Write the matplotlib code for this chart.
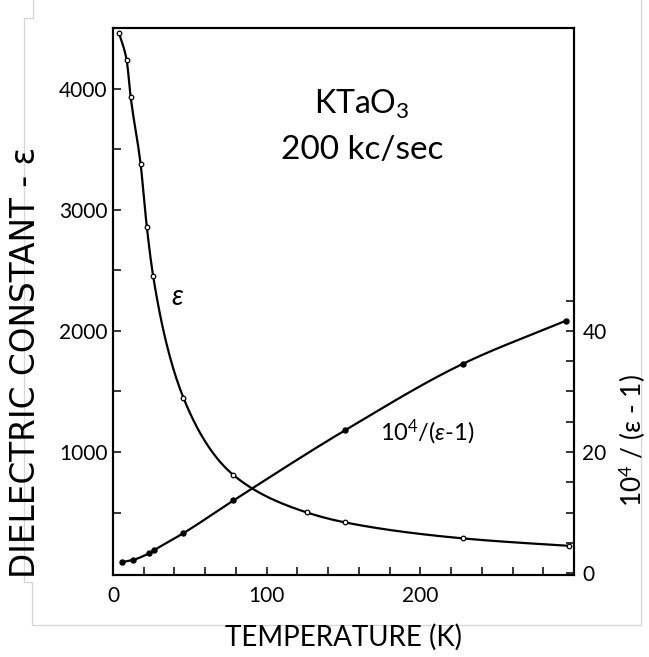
import numpy as np
import matplotlib
matplotlib.use("Agg")
import matplotlib.pyplot as plt
from matplotlib.ticker import MultipleLocator, FixedLocator
from matplotlib.lines import Line2D

plt.rcParams['font.family'] = ['Lato', 'DejaVu Sans']
plt.rcParams['mathtext.fontset'] = 'custom'
plt.rcParams['mathtext.rm'] = 'Lato'
plt.rcParams['mathtext.it'] = 'Lato:italic'

# dielectric constant of KTaO3 at 200 kc/sec (open circles)
temp_eps = [3.9, 8.9, 11.5, 18.0, 22.0, 26.1, 45.8, 78.4, 126.2, 151.1, 228.0, 296.6]
eps = [4460, 4234, 3931, 3374, 2860, 2455, 1449, 810, 501, 419, 287, 226]

# 10^4/(eps-1) (filled dots), right axis
temp_inv = [5.6, 13.2, 23.5, 26.7, 45.8, 78.4, 151.1, 228.0, 294.9]
inv_eps = [1.8, 2.2, 3.3, 3.8, 6.6, 12.0, 23.6, 34.6, 41.7]

x_ticks = [0, 100, 200]
left_ticks = [1000, 2000, 3000, 4000]
right_ticks = [0, 20, 40]


# smooth line through the measured points (monotone cubic, like a french curve)
def smooth(x, y, xs):
    x = np.asarray(x, float)
    y = np.asarray(y, float)
    h = np.diff(x)
    d = np.diff(y) / h
    m = np.zeros_like(y)
    for k in range(1, len(x) - 1):
        if d[k - 1] * d[k] > 0:
            w1 = 2 * h[k] + h[k - 1]
            w2 = h[k] + 2 * h[k - 1]
            m[k] = (w1 + w2) / (w1 / d[k - 1] + w2 / d[k])
    m[0] = d[0]
    m[-1] = d[-1]
    i = np.clip(np.searchsorted(x, xs) - 1, 0, len(h) - 1)
    t = (xs - x[i]) / h[i]
    return ((2 * t**3 - 3 * t**2 + 1) * y[i] + (t**3 - 2 * t**2 + t) * h[i] * m[i]
            + (-2 * t**3 + 3 * t**2) * y[i + 1] + (t**3 - t**2) * h[i] * m[i + 1])


fig = plt.figure(figsize=(6.49, 6.57), dpi=100)
ax = fig.add_axes([0.1741, 0.1248, 0.7103, 0.8326])
ax2 = ax.twinx()

ts = np.linspace(temp_eps[0], temp_eps[-1], 400)
ax.plot(ts, np.exp(smooth(temp_eps, np.log(eps), ts)), color='black', lw=1.6)
ax.plot(temp_eps, eps, 'o', ms=3.3, mfc='white', mec='black', mew=0.9)

ti = np.linspace(temp_inv[0], temp_inv[-1], 400)
ax2.plot(ti, smooth(temp_inv, inv_eps, ti), color='black', lw=1.6)
ax2.plot(temp_inv, inv_eps, 'o', ms=3.6, color='black')

ax.set_xlim(0, 300)
ax.set_ylim(-15, 4500)
ax2.set_ylim(-0.3, 90)

ax.xaxis.set_major_locator(FixedLocator(x_ticks))
ax.xaxis.set_minor_locator(MultipleLocator(20))
ax.yaxis.set_major_locator(FixedLocator(left_ticks))
ax.yaxis.set_minor_locator(FixedLocator(np.arange(500, 4500, 500)))
ax2.yaxis.set_major_locator(FixedLocator(right_ticks))
ax2.yaxis.set_minor_locator(FixedLocator(np.arange(5, 50, 5)))

for a in (ax, ax2):
    a.tick_params(which='both', direction='in', length=6, width=1.1, labelsize=15, colors='black')
    for s in a.spines.values():
        s.set_linewidth(1.5)
ax.tick_params(axis='x', pad=8)
ax.tick_params(axis='y', pad=4)
ax2.tick_params(axis='y', pad=6)

ax.text(41.7, 2281, 'ε', fontsize=20, style='italic', ha='center', va='center')
ax.text(174, 1165, r'10$^4$/($\mathit{\varepsilon}$-1)', fontsize=17, ha='left', va='center')
ax.text(162, 3872, r'KTaO$_3$', fontsize=23, ha='center', va='center')
ax.text(162, 3496, '200 kc/sec', fontsize=24, ha='center', va='center')

fig.text(0.530, 0.030, 'TEMPERATURE (K)', fontsize=20, ha='center', va='center')
ylab = fig.text(0.039, 0.449, 'DIELECTRIC CONSTANT - ε', fontsize=20, rotation=90,
                ha='center', va='center', family='DejaVu Sans')
fig.text(0.975, 0.330, r'10$^4$ / (ε - 1)', fontsize=19, rotation=90, ha='center', va='center')

# stretch the long y label to run about 430 px up the left side
bb = ylab.get_window_extent(fig.canvas.get_renderer())
ylab.set_fontsize(20 * 430 / bb.height)

# light frame around the plot
fx = np.array([33, 33, 24, 24, 32, 32, 641, 641]) / 649
fy = 1 - np.array([0, 18, 18, 582, 582, 625, 625, 0]) / 657
fig.add_artist(Line2D(fx, fy, transform=fig.transFigure, color='#d6d6d6', lw=0.9, zorder=0))

fig.savefig('out.png', dpi=100)
